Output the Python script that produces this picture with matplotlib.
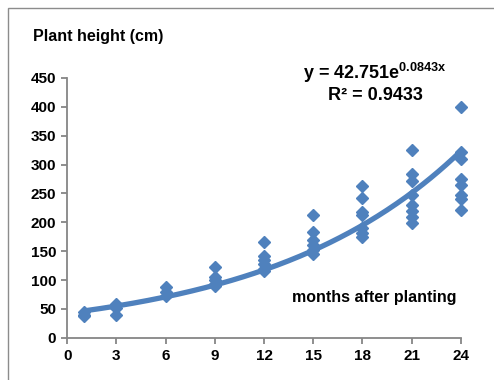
import matplotlib.pyplot as plt
import numpy as np
from matplotlib.patches import Rectangle

plt.rcParams['font.family'] = ['Liberation Sans', 'DejaVu Sans']
plt.rcParams['font.weight'] = 'bold'
plt.rcParams['mathtext.fontset'] = 'custom'
plt.rcParams['mathtext.bf'] = 'Liberation Sans:bold'
plt.rcParams['mathtext.rm'] = 'Liberation Sans:bold'

###########################################################################
# measured plant heights (cm) by month after planting
months = [1, 1, 1,
          3, 3, 3,
          6, 6, 6,
          9, 9, 9, 9, 9,
          12, 12, 12, 12, 12, 12,
          15, 15, 15, 15, 15, 15,
          18, 18, 18, 18, 18, 18, 18,
          21, 21, 21, 21, 21, 21, 21, 21,
          24, 24, 24, 24, 24, 24, 24, 24]
heights = [45, 40, 37,
           58, 51, 40,
           88, 80, 72,
           122, 106, 100, 93, 89,
           166, 141, 135, 128, 120, 115,
           213, 184, 170, 160, 152, 145,
           263, 242, 218, 213, 190, 182, 175,
           326, 283, 272, 248, 230, 220, 210, 198,
           400, 322, 310, 275, 265, 248, 240, 222]

# exponential trendline coefficients
fitA = 42.751
fitB = 0.0843
fitR2 = 0.9433

xTicks = [0, 3, 6, 9, 12, 15, 18, 21, 24]
yTicks = [0, 50, 100, 150, 200, 250, 300, 350, 400, 450]

blue = '#4F81BD'
axisGrey = '#868686'

###########################################################################
fig = plt.figure(figsize=(4.94, 3.8), dpi=100)
ax = fig.add_axes([0.136, 0.111, 0.797, 0.684])

# outer chart frame
fig.patches.append(Rectangle((8/494, -0.1), 1.2, 1 - 8/380 + 0.1, transform=fig.transFigure,
                             fill=False, edgecolor='#8c8c8c', linewidth=1.0))

ax.plot(months, heights, linestyle='none', marker='D', markersize=6.5,
        color=blue, zorder=3, clip_on=False)

xFit = np.linspace(1, 24, 200)
ax.plot(xFit, fitA*np.exp(fitB*xFit), color=blue, linewidth=3.8,
        solid_capstyle='round', zorder=4, clip_on=False)

ax.set_xlim(0, 24)
ax.set_ylim(0, 450)
ax.set_xticks(xTicks)
ax.set_yticks(yTicks)
ax.spines['top'].set_visible(False)
ax.spines['right'].set_visible(False)
for sp in ['left', 'bottom']:
    ax.spines[sp].set_color(axisGrey)
    ax.spines[sp].set_linewidth(1.3)
ax.tick_params(colors=axisGrey, length=4, width=1.3, labelsize=11,
               labelcolor='black', pad=4)
for lab in ax.get_xticklabels() + ax.get_yticklabels():
    lab.set_fontweight('bold')

fig.text(33/494, 1 - 36/380, 'Plant height (cm)', fontsize=11.5,
         fontweight='bold', va='center', ha='left')
ax.text(0.99, 0.155, 'months after planting', transform=ax.transAxes,
        fontsize=11.5, fontweight='bold', ha='right', va='center')
fig.text(375/494, 1 - 73/380, r'y = 42.751e$^{\mathbf{0.0843x}}$', fontsize=13,
         fontweight='bold', ha='center', va='center')
fig.text(375/494, 1 - 96/380, 'R² = %.4f' % fitR2, fontsize=13,
         fontweight='bold', ha='center', va='center')

fig.savefig('out.png', dpi=100)
